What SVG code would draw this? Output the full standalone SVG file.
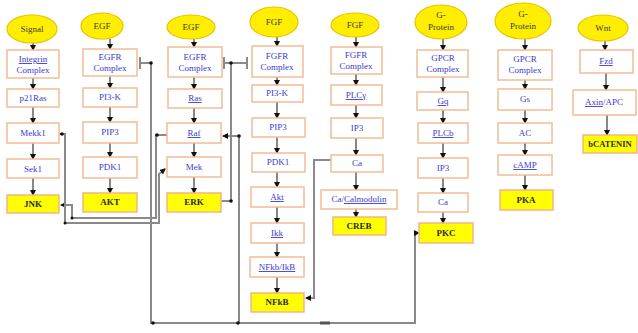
<svg xmlns="http://www.w3.org/2000/svg" width="638" height="333" viewBox="0 0 638 333">
<style>
.bx{fill:#fff;stroke:#f4bc98;stroke-width:1.5}
.yb{fill:#ffff00;stroke:#f2b48c;stroke-width:1.5}
.el{fill:#ffee00;stroke:#e8c400;stroke-width:1.2}
.t{font-family:"Liberation Serif",serif;font-size:9px;fill:#3a3ad0;text-anchor:middle}
.u{text-decoration:underline}
.yt{font-family:"Liberation Serif",serif;font-size:9px;font-weight:bold;fill:#2a2a3a;text-anchor:middle}
.et{font-family:"Liberation Serif",serif;font-size:9px;fill:#3a3a3a;text-anchor:middle}
.a{stroke:#111;stroke-width:1;fill:none;marker-end:url(#ah)}
.c{stroke:#8a8a8a;stroke-width:2;fill:none}
.ca{stroke:#8a8a8a;stroke-width:2;fill:none;marker-end:url(#ah2)}
.d{fill:#111}
</style>
<defs>
<marker id="ah" markerWidth="6" markerHeight="6" refX="5" refY="3" orient="auto" markerUnits="userSpaceOnUse"><path d="M0,0 L6,3 L0,6 z" fill="#111"/></marker>
<marker id="ah2" markerWidth="6" markerHeight="6" refX="5" refY="3" orient="auto" markerUnits="userSpaceOnUse"><path d="M0,0 L6,3 L0,6 z" fill="#111"/></marker>
</defs>

<g id="connectors">
<path class="a" d="M33,43 V50"/><path class="a" d="M33,78 V89"/><path class="a" d="M33,107 V123"/><path class="a" d="M33,143 V159"/><path class="a" d="M33,178 V195"/>
<path class="a" d="M110,39 V49"/><path class="a" d="M110,76 V88"/><path class="a" d="M110,107 V122"/><path class="a" d="M110,143 V157"/><path class="a" d="M110,178 V193"/>
<path class="a" d="M194,39 V47"/><path class="a" d="M194,77 V89"/><path class="a" d="M194,108 V123"/><path class="a" d="M194,143 V157"/><path class="a" d="M194,177 V193"/>
<path class="a" d="M277,37 V46"/><path class="a" d="M277,77 V85"/><path class="a" d="M277,102 V118"/><path class="a" d="M277,137 V153"/><path class="a" d="M277,172 V187"/><path class="a" d="M277,207 V223"/><path class="a" d="M277,243 V257"/><path class="a" d="M277,277 V293"/>
<path class="a" d="M356,37 V47"/><path class="a" d="M356,74 V85"/><path class="a" d="M356,105 V118"/><path class="a" d="M356,138 V155"/><path class="a" d="M356,172 V190"/><path class="a" d="M356,209 V217"/>
<path class="a" d="M443,39 V50"/><path class="a" d="M443,77 V92"/><path class="a" d="M443,110 V123"/><path class="a" d="M443,143 V158"/><path class="a" d="M443,178 V193"/><path class="a" d="M443,212 V223"/>
<path class="a" d="M525,39 V50"/><path class="a" d="M525,80 V89"/><path class="a" d="M525,110 V123"/><path class="a" d="M525,143 V155"/><path class="a" d="M525,175 V190"/>
<path class="a" d="M605,41 V50"/><path class="a" d="M606,73 V90"/><path class="a" d="M607,115 V135"/>
<path class="c" d="M221,201 H231 V63"/>
<path class="c" d="M224,63 H247"/>
<path class="c" d="M224,57 V69 M247,57 V69"/>
<circle class="d" cx="231" cy="201" r="1.8"/><circle class="d" cx="231" cy="63" r="1.8"/>
<path class="c" d="M140,57 V69"/>
<path class="ca" d="M140,63 H151 V323 H415 V233 H419"/>
<circle class="d" cx="151" cy="63" r="1.8"/><circle class="d" cx="153" cy="323" r="1.8"/>
<path class="ca" d="M239,323 V136 H223"/>
<circle class="d" cx="239" cy="136" r="1.8"/><circle class="d" cx="238" cy="323" r="1.8"/>
<path class="ca" d="M167,135 H156 V218 H72 V205 H61"/>
<circle class="d" cx="157" cy="135" r="1.8"/><circle class="d" cx="72" cy="218" r="1.5"/>
<path class="ca" d="M59,134 H65 V223 H159 V174 L165,169"/>
<circle class="d" cx="62" cy="134" r="1.8"/><circle class="d" cx="65" cy="223" r="1.5"/>
<path class="ca" d="M331,160 H314 V298 H306"/>
<rect x="320" y="321.5" width="10" height="3" fill="#555"/>
</g>

<g id="col1">
<g id="signal"><ellipse class="el" cx="32" cy="29" rx="25" ry="14"/><text class="et" x="32" y="32">Signal</text></g>
<g id="integrin"><rect class="bx" x="7" y="50" width="52" height="28"/><text class="t" x="33" y="62"><tspan class="u">Integrin</tspan></text><text class="t" x="33" y="73">Complex</text></g>
<g id="p21ras"><rect class="bx" x="7" y="89" width="52" height="18"/><text class="t" x="33" y="101">p21Ras</text></g>
<g id="mekk1"><rect class="bx" x="7" y="123" width="52" height="20"/><text class="t" x="33" y="136">Mekk1</text></g>
<g id="sek1"><rect class="bx" x="7" y="159" width="52" height="19"/><text class="t" x="33" y="172">Sek1</text></g>
<g id="jnk"><rect class="yb" x="7" y="195" width="52" height="18"/><text class="yt" x="33" y="207">JNK</text></g>
</g>

<g id="col2">
<g id="egf1"><ellipse class="el" cx="102" cy="26" rx="21" ry="13"/><text class="et" x="102" y="29">EGF</text></g>
<g id="egfr1"><rect class="bx" x="83" y="49" width="54" height="27"/><text class="t" x="110" y="60">EGFR</text><text class="t" x="110" y="71">Complex</text></g>
<g id="pi3k1"><rect class="bx" x="83" y="88" width="54" height="19"/><text class="t" x="110" y="100">PI3-K</text></g>
<g id="pip3a"><rect class="bx" x="83" y="122" width="54" height="21"/><text class="t" x="110" y="135">PIP3</text></g>
<g id="pdk1a"><rect class="bx" x="83" y="157" width="54" height="21"/><text class="t" x="110" y="170">PDK1</text></g>
<g id="akt"><rect class="yb" x="83" y="193" width="54" height="19"/><text class="yt" x="110" y="205">AKT</text></g>
</g>

<g id="col3">
<g id="egf2"><ellipse class="el" cx="191" cy="27" rx="24" ry="12"/><text class="et" x="191" y="30">EGF</text></g>
<g id="egfr2"><rect class="bx" x="168" y="47" width="54" height="30"/><text class="t" x="195" y="60">EGFR</text><text class="t" x="195" y="71">Complex</text></g>
<g id="ras"><rect class="bx" x="168" y="89" width="54" height="19"/><text class="t u" x="195" y="101">Ras</text></g>
<g id="raf"><rect class="bx" x="167" y="123" width="54" height="20"/><text class="t u" x="194" y="136">Raf</text></g>
<g id="mek"><rect class="bx" x="167" y="157" width="54" height="20"/><text class="t" x="194" y="170">Mek</text></g>
<g id="erk"><rect class="yb" x="167" y="193" width="54" height="19"/><text class="yt" x="194" y="205">ERK</text></g>
</g>

<g id="col4">
<g id="fgf1"><ellipse class="el" cx="274" cy="22" rx="24" ry="15"/><text class="et" x="274" y="25">FGF</text></g>
<g id="fgfr1"><rect class="bx" x="252" y="46" width="51" height="31"/><text class="t" x="277" y="59">FGFR</text><text class="t" x="277" y="70">Complex</text></g>
<g id="pi3k2"><rect class="bx" x="252" y="85" width="51" height="17"/><text class="t" x="277" y="96">PI3-K</text></g>
<g id="pip3b"><rect class="bx" x="252" y="118" width="53" height="19"/><text class="t" x="278" y="130">PIP3</text></g>
<g id="pdk1b"><rect class="bx" x="252" y="153" width="53" height="19"/><text class="t" x="278" y="165">PDK1</text></g>
<g id="akt2"><rect class="bx" x="251" y="187" width="53" height="20"/><text class="t u" x="277" y="200">Akt</text></g>
<g id="ikk"><rect class="bx" x="251" y="223" width="53" height="20"/><text class="t u" x="277" y="236">Ikk</text></g>
<g id="nfkbikb"><rect class="bx" x="250" y="257" width="54" height="20"/><text class="t u" x="277" y="270">NFkb/IkB</text></g>
<g id="nfkb"><rect class="yb" x="251" y="293" width="53" height="19"/><text class="yt" x="277" y="305">NFkB</text></g>
</g>

<g id="col5">
<g id="fgf2"><ellipse class="el" cx="355" cy="25" rx="24" ry="12"/><text class="et" x="355" y="28">FGF</text></g>
<g id="fgfr2"><rect class="bx" x="331" y="47" width="51" height="27"/><text class="t" x="356" y="58">FGFR</text><text class="t" x="356" y="69">Complex</text></g>
<g id="plcg"><rect class="bx" x="331" y="85" width="51" height="20"/><text class="t u" x="356" y="98">PLCγ</text></g>
<g id="ip3a"><rect class="bx" x="331" y="118" width="52" height="20"/><text class="t" x="357" y="131">IP3</text></g>
<g id="ca1"><rect class="bx" x="331" y="155" width="52" height="17"/><text class="t" x="357" y="166">Ca</text></g>
<g id="cacal"><rect class="bx" x="321" y="190" width="76" height="19"/><text class="t" x="359" y="202">Ca/<tspan class="u">Calmodulin</tspan></text></g>
<g id="creb"><rect class="yb" x="333" y="217" width="53" height="18"/><text class="yt" x="359" y="229">CREB</text></g>
</g>

<g id="col6">
<g id="gprot1"><ellipse class="el" cx="441" cy="22" rx="26" ry="17"/><text class="et" x="441" y="18">G-</text><text class="et" x="441" y="30">Protein</text></g>
<g id="gpcr1"><rect class="bx" x="417" y="50" width="51" height="27"/><text class="t" x="443" y="61">GPCR</text><text class="t" x="443" y="72">Complex</text></g>
<g id="gq"><rect class="bx" x="417" y="92" width="51" height="18"/><text class="t u" x="443" y="104">Gq</text></g>
<g id="plcb"><rect class="bx" x="418" y="123" width="50" height="20"/><text class="t u" x="443" y="136">PLCb</text></g>
<g id="ip3b"><rect class="bx" x="418" y="158" width="50" height="20"/><text class="t" x="443" y="171">IP3</text></g>
<g id="ca2"><rect class="bx" x="418" y="193" width="50" height="19"/><text class="t" x="443" y="205">Ca</text></g>
<g id="pkc"><rect class="yb" x="419" y="223" width="54" height="20"/><text class="yt" x="446" y="236">PKC</text></g>
</g>

<g id="col7">
<g id="gprot2"><ellipse class="el" cx="523" cy="21" rx="28" ry="18"/><text class="et" x="523" y="17">G-</text><text class="et" x="523" y="29">Protein</text></g>
<g id="gpcr2"><rect class="bx" x="498" y="50" width="54" height="30"/><text class="t" x="525" y="62">GPCR</text><text class="t" x="525" y="73">Complex</text></g>
<g id="gs"><rect class="bx" x="498" y="89" width="54" height="21"/><text class="t" x="525" y="102">Gs</text></g>
<g id="ac"><rect class="bx" x="498" y="123" width="54" height="20"/><text class="t" x="525" y="136">AC</text></g>
<g id="camp"><rect class="bx" x="498" y="155" width="54" height="20"/><text class="t u" x="525" y="168">cAMP</text></g>
<g id="pka"><rect class="yb" x="500" y="190" width="53" height="20"/><text class="yt" x="526" y="203">PKA</text></g>
</g>

<g id="col8">
<g id="wnt"><ellipse class="el" cx="603" cy="28" rx="25" ry="13"/><text class="et" x="603" y="31">Wnt</text></g>
<g id="fzd"><rect class="bx" x="580" y="50" width="53" height="23"/><text class="t u" x="606" y="64">Fzd</text></g>
<g id="axin"><rect class="bx" x="573" y="90" width="63" height="25"/><text class="t" x="604" y="105"><tspan class="u">Axin</tspan>/APC</text></g>
<g id="bcat"><rect class="yb" x="583" y="135" width="54" height="18"/><text class="yt" x="610" y="147" style="font-size:8.5px">bCATENIN</text></g>
</g>
</svg>
